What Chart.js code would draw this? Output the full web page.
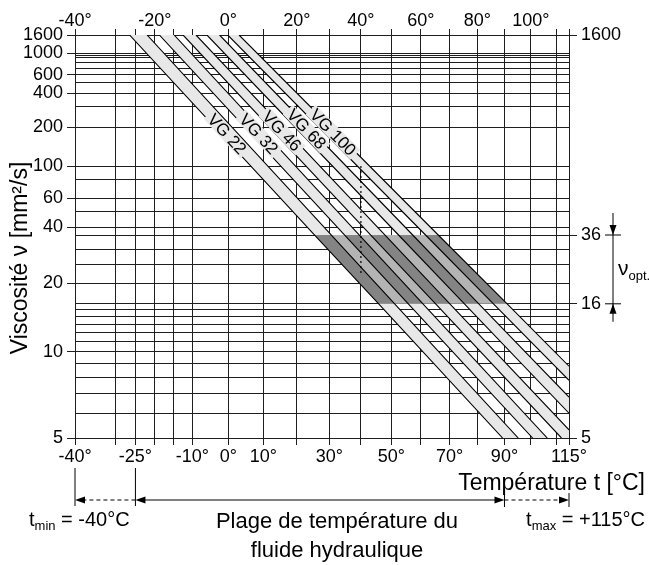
<!DOCTYPE html>
<html lang="fr">
<head>
<meta charset="utf-8">
<title>Viscosité / température</title>
<script src="https://cdn.jsdelivr.net/npm/chart.js@4.4.1/dist/chart.umd.min.js"></script>
<style>
  html, body { margin: 0; padding: 0; background: #fff; }
  #wrap { position: relative; width: 649px; height: 565px; }
</style>
</head>
<body>
<div id="wrap"><canvas id="viscChart"></canvas></div>
<script>
// Limites des axes
const tempMin = -40, tempMax = 115;
const viscMin = 5, viscMax = 1600;
const optLow = 16, optHigh = 36;

// Lignes de la grille et étiquettes
const gridTemps = [-40, -30, -25, -20, -15, -10, 0, 10, 20, 30, 40, 50, 60, 70, 80, 90, 100, 110, 115];
const bottomTempLabels = [-40, -25, -10, 0, 10, 30, 50, 70, 90, 115];
const topTempLabels = [-40, -20, 0, 20, 40, 60, 80, 100];
const gridVisc = [1600, 1000, 950, 900, 800, 700, 600, 500, 400, 300, 200, 100, 80, 60, 50, 40, 36, 30, 25, 20, 16, 15, 14, 13, 12, 11, 10, 9, 8, 7, 6, 5];
const leftViscLabels = [1600, 1000, 600, 400, 200, 100, 60, 40, 20, 10, 5];
const rightViscLabels = [1600, 36, 16, 5];

// Classes de viscosité (deux lignes par bande : limite basse, limite haute)
const grades = ['VG 22', 'VG 32', 'VG 46', 'VG 68', 'VG 100'];
// température où chaque ligne coupe ν = 1600
const tempAtTop = [-26.5, -22.0, -18.8, -14.9, -12.5, -9.0, -6.0, -2.5, -0.2, 3.0];
// température où chaque ligne coupe ν = 36 et ν = 16
const tempAtOptHigh = [25.4, 30.6, 34.8, 39.5, 43.2, 47.9, 52.4, 57.2, 61.6, 66.0];
const tempAtOptLow = [45.8, 51.1, 55.7, 60.7, 65.1, 70.1, 75.3, 80.5, 85.9, 91.0];
// sortie de la grille [t, ν]
const lineExit = [[89.3, 5], [95.2, 5], [100.7, 5], [106.4, 5], [112.0, 5], [115, 5.3], [115, 6.0], [115, 6.8], [115, 7.8], [115, 8.8]];
// viscosité nominale à 40 °C (VG 100 -> VG 22)
const nominalAt40 = [[40, 100], [40, 22]];
// position des étiquettes VG [t, ν]
const gradeLabelAt = [[-0.4, 176], [8.7, 176], [15.5, 186], [22.9, 193], [31.1, 182]];

const fontFamily = '"Liberation Sans", Arial, Helvetica, sans-serif';
const gridColor = '#1e1e1e';
const bandColor = '#e8e8e8';

// Échelles Ubbelohde-Walther : log log (ν + 0.7) et log (T en K)
const walther = v => Math.log10(Math.log10(v + 0.7));
const waltherInv = g => Math.pow(10, Math.pow(10, g)) - 0.7;
const logKelvin = t => Math.log10(t + 273.15);
const logKelvinInv = u => Math.pow(10, u) - 273.15;

const tickValuesByAxis = { x: gridTemps, x2: gridTemps, y: gridVisc, y2: rightViscLabels };

function makeScale(id, fwd, inv) {
  class S extends Chart.Scale {
    determineDataLimits() {
      this.min = this.options.min;
      this.max = this.options.max;
    }
    buildTicks() {
      return tickValuesByAxis[this.id].map(value => ({ value }));
    }
    getLabelForValue(value) {
      return String(value);
    }
    configure() {
      super.configure();
      this._fStart = fwd(this.min);
      this._fRange = fwd(this.max) - this._fStart;
    }
    getPixelForValue(value) {
      return this.getPixelForDecimal((fwd(value) - this._fStart) / this._fRange);
    }
    getValueForPixel(pixel) {
      return inv(this.getDecimalForPixel(pixel) * this._fRange + this._fStart);
    }
  }
  S.id = id;
  S.defaults = {};
  return S;
}
Chart.register(makeScale('walther', walther, waltherInv), makeScale('logkelvin', logKelvin, logKelvinInv));

Chart.defaults.font.family = fontFamily;
Chart.defaults.color = '#000';

// Lignes limites
const lines = tempAtTop.map((t, i) => [
  { x: t, y: viscMax },
  { x: tempAtOptHigh[i], y: optHigh },
  { x: tempAtOptLow[i], y: optLow },
  { x: lineExit[i][0], y: lineExit[i][1] }
]);

const datasets = [];

// Bandes gris clair
grades.forEach((g, k) => {
  const lo = lines[2 * k], hi = lines[2 * k + 1];
  const poly = [lo[0], ...hi];
  if (hi[3].y > viscMin && lo[3].x < tempMax) poly.push({ x: tempMax, y: viscMin });
  poly.push(lo[3], lo[2], lo[1]);
  datasets.push({ data: poly, backgroundColor: bandColor, fill: 'shape', order: 5 });
});

// Zone ν opt. (16 ... 36)
datasets.push({
  data: [lines[0][1], lines[9][1], lines[9][2], lines[0][2]],
  backgroundColor: '#b4b4b4', fill: 'shape', order: 4
});
grades.forEach((g, k) => {
  const lo = lines[2 * k], hi = lines[2 * k + 1];
  datasets.push({ data: [lo[1], hi[1], hi[2], lo[2]], backgroundColor: '#848484', fill: 'shape', order: 3 });
});

// Lignes noires
lines.forEach(pts => {
  datasets.push({ data: pts, borderColor: '#000', borderWidth: 1.1, fill: false, order: 2 });
});

// Pointillés à 40 °C
datasets.push({
  data: nominalAt40.map(p => ({ x: p[0], y: p[1] })),
  borderColor: '#000', borderWidth: 1.2, borderDash: [2, 3], fill: false, order: 1
});

datasets.forEach(d => {
  d.xAxisID = 'x';
  d.yAxisID = 'y';
  d.pointRadius = 0;
  d.tension = 0;
  if (!d.borderColor) { d.borderColor = 'rgba(0,0,0,0)'; d.borderWidth = 0; }
});

function arrowHead(ctx, tipX, tipY, dirX, dirY, len, half) {
  const bx = tipX - dirX * len, by = tipY - dirY * len;
  ctx.beginPath();
  ctx.moveTo(tipX, tipY);
  ctx.lineTo(bx - dirY * half, by + dirX * half);
  ctx.lineTo(bx + dirY * half, by - dirX * half);
  ctx.closePath();
  ctx.fill();
}

function richText(ctx, x, y, parts, align) {
  let w = 0;
  parts.forEach(p => { ctx.font = p[1] + 'px ' + fontFamily; w += ctx.measureText(p[0]).width; });
  let cx = align === 'right' ? x - w : align === 'center' ? x - w / 2 : x;
  ctx.textAlign = 'left';
  parts.forEach(p => {
    ctx.font = p[1] + 'px ' + fontFamily;
    ctx.fillText(p[0], cx, y + (p[2] || 0));
    cx += ctx.measureText(p[0]).width;
  });
}

const annotations = {
  id: 'annotations',
  afterDraw(chart) {
    const { ctx } = chart;
    const x = chart.scales.x, y = chart.scales.y;
    ctx.save();
    ctx.fillStyle = '#000';
    ctx.strokeStyle = '#000';

    // Étiquettes VG le long des bandes
    grades.forEach((g, k) => {
      const lo = lines[2 * k];
      const x0 = x.getPixelForValue(lo[0].x), y0 = y.getPixelForValue(lo[0].y);
      const x1 = x.getPixelForValue(lo[3].x), y1 = y.getPixelForValue(lo[3].y);
      const ang = Math.atan2(y1 - y0, x1 - x0);
      const px = x.getPixelForValue(gradeLabelAt[k][0]);
      const py = y.getPixelForValue(gradeLabelAt[k][1]);
      ctx.save();
      ctx.translate(px, py);
      ctx.rotate(ang);
      ctx.font = '17px ' + fontFamily;
      const w = ctx.measureText(g).width;
      ctx.fillStyle = bandColor;
      ctx.fillRect(-w / 2 - 3, -7, w + 6, 14);
      ctx.fillStyle = '#000';
      ctx.textAlign = 'center';
      ctx.textBaseline = 'middle';
      ctx.fillText(g, 0, 1);
      ctx.restore();
    });

    // Titre axe y
    ctx.save();
    ctx.translate(21, 258);
    ctx.rotate(-Math.PI / 2);
    ctx.font = '23px ' + fontFamily;
    ctx.textAlign = 'center';
    ctx.textBaseline = 'middle';
    ctx.fillText('Viscosité ν [mm²/s]', 0, 0);
    ctx.restore();

    // Titre axe x
    ctx.font = '23px ' + fontFamily;
    ctx.textAlign = 'right';
    ctx.textBaseline = 'alphabetic';
    ctx.fillText('Température t [°C]', 645, 490);

    // Plage de température
    const ay = 500;
    const xa = x.getPixelForValue(-40), xb = x.getPixelForValue(-25);
    const xc = x.getPixelForValue(90), xd = x.getPixelForValue(115);
    ctx.lineWidth = 1;
    ctx.beginPath();
    ctx.moveTo(xa, 468); ctx.lineTo(xa, 506);
    ctx.moveTo(xb, 468); ctx.lineTo(xb, 506);
    ctx.moveTo(xc, 494); ctx.lineTo(xc, 507);
    ctx.moveTo(xd, 493); ctx.lineTo(xd, 507);
    ctx.stroke();
    ctx.setLineDash([4, 3]);
    ctx.beginPath();
    ctx.moveTo(xb, ay); ctx.lineTo(xa + 8, ay);
    ctx.moveTo(xc, ay); ctx.lineTo(xd - 8, ay);
    ctx.stroke();
    ctx.setLineDash([]);
    ctx.beginPath();
    ctx.moveTo(xb + 8, ay); ctx.lineTo(xc - 8, ay);
    ctx.stroke();
    arrowHead(ctx, xa, ay, -1, 0, 10, 3.5);
    arrowHead(ctx, xb, ay, -1, 0, 10, 3.5);
    arrowHead(ctx, xc, ay, 1, 0, 10, 3.5);
    arrowHead(ctx, xd, ay, 1, 0, 10, 3.5);

    ctx.textBaseline = 'alphabetic';
    richText(ctx, 29, 526, [['t', 20], ['min', 13, 4], [' = -40°C', 20]], 'left');
    richText(ctx, 645, 526, [['t', 20], ['max', 13, 4], [' = +115°C', 20]], 'right');
    richText(ctx, 337, 528, [['Plage de température du', 22]], 'center');
    richText(ctx, 337, 557, [['fluide hydraulique', 22]], 'center');

    // ν opt.
    const y36 = y.getPixelForValue(optHigh), y16 = y.getPixelForValue(optLow);
    const bx = 613;
    ctx.beginPath();
    ctx.moveTo(bx, y36 - 22); ctx.lineTo(bx, y16 + 18);
    ctx.moveTo(bx - 8, y36); ctx.lineTo(bx + 8, y36);
    ctx.moveTo(bx - 8, y16); ctx.lineTo(bx + 8, y16);
    ctx.stroke();
    arrowHead(ctx, bx, y36, 0, 1, 10, 3.5);
    arrowHead(ctx, bx, y16, 0, -1, 10, 3.5);
    richText(ctx, 618, 275, [['ν', 21], ['opt.', 13, 5]], 'left');

    ctx.restore();
  }
};

const tickFont = { size: 18, lineHeight: 1 };

new Chart(document.getElementById('viscChart'), {
  type: 'line',
  data: { datasets },
  options: {
    responsive: true,
    maintainAspectRatio: false,
    animation: false,
    layout: { padding: 0 },
    plugins: { legend: { display: false }, tooltip: { enabled: false } },
    scales: {
      x: {
        type: 'logkelvin', position: 'bottom', min: tempMin, max: tempMax, z: 1,
        grid: { color: gridColor, lineWidth: 1, tickLength: 7, tickColor: gridColor },
        border: { color: gridColor },
        ticks: {
          autoSkip: false, maxRotation: 0, padding: 3, font: tickFont,
          callback: v => bottomTempLabels.includes(v) ? v + '°' : ''
        },
        afterFit: s => { s.height = 127; }
      },
      x2: {
        type: 'logkelvin', position: 'top', min: tempMin, max: tempMax, z: 1,
        grid: { drawOnChartArea: false, lineWidth: 1, tickLength: 6, tickColor: gridColor },
        border: { color: gridColor },
        ticks: {
          autoSkip: false, maxRotation: 0, padding: -1, font: tickFont,
          callback: v => topTempLabels.includes(v) ? v + '°' : ''
        },
        afterFit: s => { s.height = 35; }
      },
      y: {
        type: 'walther', position: 'left', min: viscMin, max: viscMax, z: 1,
        grid: {
          color: gridColor, lineWidth: 1, tickLength: 8,
          tickColor: c => leftViscLabels.includes(c.tick && c.tick.value) ? gridColor : 'rgba(0,0,0,0)'
        },
        border: { color: gridColor },
        ticks: {
          autoSkip: false, padding: 4, font: tickFont,
          callback: v => leftViscLabels.includes(v) ? String(v) : ''
        },
        afterFit: s => { s.width = 75; }
      },
      y2: {
        type: 'walther', position: 'right', min: viscMin, max: viscMax, z: 1,
        grid: { drawOnChartArea: false, lineWidth: 1, tickLength: 8, tickColor: gridColor },
        border: { color: gridColor },
        ticks: { autoSkip: false, padding: 4, font: tickFont, callback: v => String(v) },
        afterFit: s => { s.width = 80; }
      }
    }
  },
  plugins: [annotations]
});
</script>
</body>
</html>
